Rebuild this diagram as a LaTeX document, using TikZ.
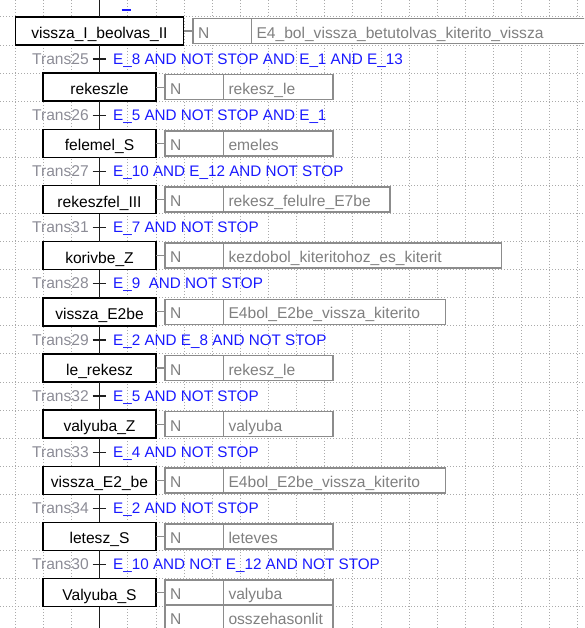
\documentclass[tikz,border=0pt]{standalone}
\usepackage{fontspec}
\setmainfont{Liberation Sans}
\definecolor{gridc}{RGB}{170,170,170}
\definecolor{actc}{RGB}{128,128,128}
\definecolor{actborder}{RGB}{140,140,140}
\definecolor{transc}{RGB}{140,140,150}
\definecolor{condc}{RGB}{25,25,255}
\definecolor{flowc}{RGB}{30,30,30}
\begin{document}
\begin{tikzpicture}[x=1pt,y=-1pt,
  font=\fontsize{15.6}{18}\selectfont,
  stepbox/.style={draw=black, line width=1.6pt, fill=white, minimum height=28pt,
    minimum width=113pt, inner xsep=0pt, inner ysep=0pt, outer sep=0pt,
    text height=15pt, text depth=0pt, text=black},
  actcell/.style={draw=actborder, line width=1.4pt, fill=white, minimum height=25pt,
    inner xsep=5pt, inner ysep=0pt, outer sep=0pt, align=left, text=actc,
    text height=14pt, text depth=0pt, anchor=west},
  ncell/.style={actcell, text width=48.5pt},
  translabel/.style={text=transc, anchor=base east, inner sep=0pt},
  condlabel/.style={text=condc, anchor=base west, inner sep=0pt,
    font=\fontsize{15.25}{18}\selectfont},
  flow/.style={line width=1.5pt, draw=flowc},
  tick/.style={line width=1.3pt, draw=flowc},
  stub/.style={line width=1.2pt, draw=actborder},
  gridline/.style={draw=gridc, line width=1pt, dash pattern=on 1.1pt off 1.9pt}]
\useasboundingbox (0,0) rectangle (584,628);
\clip (0,0) rectangle (584,628);
% background grid
\foreach \i in {0,...,20} \draw[gridline] (15.5+28.12*\i,0) -- (15.5+28.12*\i,628);
\foreach \j in {0,...,21} \draw[gridline] (0,17+28.08*\j) -- (584,17+28.08*\j);

% free ends of the flow line
\coordinate (top) at (99.5,0);
\coordinate (bot) at (99.5,628);
% transition points
\coordinate (t0) at (99.5,59.12);
\coordinate (t1) at (99.5,115.28);
\coordinate (t2) at (99.5,171.44);
\coordinate (t3) at (99.5,227.6);
\coordinate (t4) at (99.5,283.76);
\coordinate (t5) at (99.5,339.92);
\coordinate (t6) at (99.5,396.08);
\coordinate (t7) at (99.5,452.24);
\coordinate (t8) at (99.5,508.4);
\coordinate (t9) at (99.5,564.56);

% steps
\node[stepbox, minimum width=168pt] (s0) at (99.5,31.04) {vissza\_I\_beolvas\_II};
\node[stepbox] (s1) at (99.5,87.2) {rekeszle};
\node[stepbox] (s2) at (99.5,143.36) {felemel\_S};
\node[stepbox] (s3) at (99.5,199.52) {rekeszfel\_III};
\node[stepbox] (s4) at (99.5,255.68) {korivbe\_Z};
\node[stepbox] (s5) at (99.5,311.84) {vissza\_E2be};
\node[stepbox] (s6) at (99.5,368.0) {le\_rekesz};
\node[stepbox] (s7) at (99.5,424.16) {valyuba\_Z};
\node[stepbox] (s8) at (99.5,480.32) {vissza\_E2\_be};
\node[stepbox] (s9) at (99.5,536.48) {letesz\_S};
\node[stepbox] (s10) at (99.5,592.64) {Valyuba\_S};

% flow line
\draw[flow] (top) -- (s0.north);
\draw[flow] (s0.south) -- (s1.north);
\draw[flow] (s1.south) -- (s2.north);
\draw[flow] (s2.south) -- (s3.north);
\draw[flow] (s3.south) -- (s4.north);
\draw[flow] (s4.south) -- (s5.north);
\draw[flow] (s5.south) -- (s6.north);
\draw[flow] (s6.south) -- (s7.north);
\draw[flow] (s7.south) -- (s8.north);
\draw[flow] (s8.south) -- (s9.north);
\draw[flow] (s9.south) -- (s10.north);
\draw[flow] (s10.south) -- (bot);

% transition ticks
\foreach \t in {t0,t1,t2,t3,t4,t5,t6,t7,t8,t9}
  \draw[tick] ([xshift=-7pt]\t) -- ([xshift=6pt]\t);

% transition labels and conditions
\node[translabel] (tr0) at (89,64.3) {Trans25};
\node[condlabel] (c0) at (113,64.3) {E\_8 AND NOT STOP AND E\_1 AND E\_13};
\node[translabel] (tr1) at (89,120.46) {Trans26};
\node[condlabel] (c1) at (113,120.46) {E\_5 AND NOT STOP AND E\_1};
\node[translabel] (tr2) at (89,176.62) {Trans27};
\node[condlabel] (c2) at (113,176.62) {E\_10 AND E\_12 AND NOT STOP};
\node[translabel] (tr3) at (89,232.78) {Trans31};
\node[condlabel] (c3) at (113,232.78) {E\_7 AND NOT STOP};
\node[translabel] (tr4) at (89,288.94) {Trans28};
\node[condlabel] (c4) at (113,288.94) {E\_9\ \ AND NOT STOP};
\node[translabel] (tr5) at (89,345.1) {Trans29};
\node[condlabel] (c5) at (113,345.1) {E\_2 AND E\_8 AND NOT STOP};
\node[translabel] (tr6) at (89,401.26) {Trans32};
\node[condlabel] (c6) at (113,401.26) {E\_5 AND NOT STOP};
\node[translabel] (tr7) at (89,457.42) {Trans33};
\node[condlabel] (c7) at (113,457.42) {E\_4 AND NOT STOP};
\node[translabel] (tr8) at (89,513.58) {Trans34};
\node[condlabel] (c8) at (113,513.58) {E\_2 AND NOT STOP};
\node[translabel] (tr9) at (89,569.74) {Trans30};
\node[condlabel] (c9) at (113,569.74) {E\_10 AND NOT E\_12 AND NOT STOP};

% tail of the previous (cut off) condition
\draw[condc, line width=1.4pt] (121.5,10.2) -- (130.5,10.2);

% actions
\node[ncell] (n0) at (193,31.04) {N};
\node[actcell, text width=330pt] (a0) at (n0.east) {E4\_bol\_vissza\_betutolvas\_kiterito\_vissza};
\node[ncell] (n1) at (165,87.2) {N};
\node[actcell, text width=99.5pt] (a1) at (n1.east) {rekesz\_le};
\node[ncell] (n2) at (165,143.36) {N};
\node[actcell, text width=99.5pt] (a2) at (n2.east) {emeles};
\node[ncell] (n3) at (165,199.52) {N};
\node[actcell, text width=156.5pt] (a3) at (n3.east) {rekesz\_felulre\_E7be};
\node[ncell] (n4) at (165,255.68) {N};
\node[actcell, text width=268.2pt] (a4) at (n4.east) {kezdobol\_kiteritohoz\_es\_kiterit};
\node[ncell] (n5) at (165,311.84) {N};
\node[actcell, text width=212.2pt] (a5) at (n5.east) {E4bol\_E2be\_vissza\_kiterito};
\node[ncell] (n6) at (165,368.0) {N};
\node[actcell, text width=99.5pt] (a6) at (n6.east) {rekesz\_le};
\node[ncell] (n7) at (165,424.16) {N};
\node[actcell, text width=99.5pt] (a7) at (n7.east) {valyuba};
\node[ncell] (n8) at (165,480.32) {N};
\node[actcell, text width=212.2pt] (a8) at (n8.east) {E4bol\_E2be\_vissza\_kiterito};
\node[ncell] (n9) at (165,536.48) {N};
\node[actcell, text width=99.5pt] (a9) at (n9.east) {leteves};
\node[ncell] (n10) at (165,592.64) {N};
\node[actcell, text width=99.5pt] (a10) at (n10.east) {valyuba};
\node[ncell, anchor=north west] (n11) at (n10.south west) {N};
\node[actcell, text width=99.5pt] (a11) at (n11.east) {osszehasonlit};

% action stubs
\draw[stub] (s0.east) -- (n0.west);
\draw[stub] (s1.east) -- (n1.west);
\draw[stub] (s2.east) -- (n2.west);
\draw[stub] (s3.east) -- (n3.west);
\draw[stub] (s4.east) -- (n4.west);
\draw[stub] (s5.east) -- (n5.west);
\draw[stub] (s6.east) -- (n6.west);
\draw[stub] (s7.east) -- (n7.west);
\draw[stub] (s8.east) -- (n8.west);
\draw[stub] (s9.east) -- (n9.west);
\draw[stub] (s10.east) -- (n10.west);
\end{tikzpicture}
\end{document}
